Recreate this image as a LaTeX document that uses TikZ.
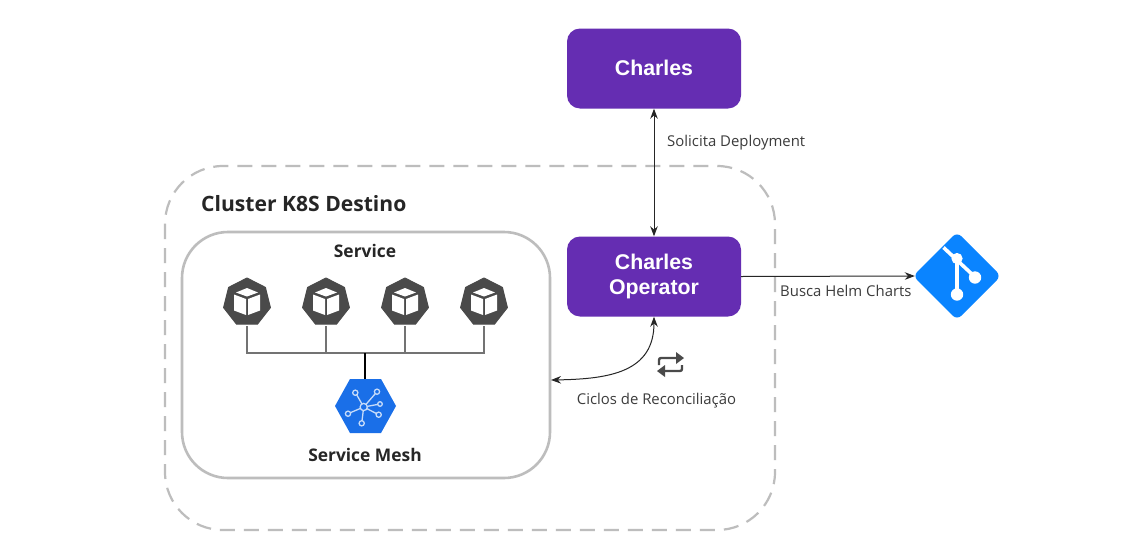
\documentclass[tikz,border=0pt]{standalone}
\usepackage{fontspec}
\setmainfont{Open Sans}
\newfontfamily\arialf{Liberation Sans}
\usetikzlibrary{arrows.meta}
\definecolor{purp}{HTML}{652DB2}
\definecolor{dark}{HTML}{4A4A4A}
\definecolor{gblue}{HTML}{1A6FE8}
\definecolor{gitblue}{HTML}{0A84FF}
\definecolor{frame}{HTML}{BDBDBD}
\definecolor{txt}{HTML}{3C3C3C}
\tikzset{
  x=1pt,y=-1pt,
  purplebox/.style={fill=purp,rounded corners=13pt,minimum width=174pt,minimum height=80pt,inner sep=0pt,text=white,align=center,font=\arialf\bfseries\fontsize{21.3}{24.5}\selectfont},
  lbl/.style={text=txt,inner sep=0pt,font=\fontsize{14.9}{17}\selectfont},
  hd/.style={text=black!85,inner sep=0pt,font=\bfseries\fontsize{17.4}{20}\selectfont},
  conn/.style={draw=black!85,line width=1pt,{Stealth[length=10pt,width=7.5pt]}-{Stealth[length=10pt,width=7.5pt]}},
  tree/.style={draw=black!55,line width=1.1pt},
  podnode/.style={inner sep=0pt,minimum size=48pt},
}
\newcommand{\kubepod}[2]{%
  \fill[dark,line join=round,draw=dark,line width=1pt] (#1+0,#2-24)
    -- (#1+18.4,#2-14.6) -- (#1+23.4,#2+5.6) -- (#1+10.4,#2+22.2)
    -- (#1-10.4,#2+22.2) -- (#1-23.4,#2+5.6) -- (#1-18.4,#2-14.6) -- cycle;
  \fill[white] (#1,#2-14) -- (#1+11,#2-9.5) -- (#1,#2-5.5) -- (#1-11,#2-9.5) -- cycle;
  \fill[white] (#1-13,#2-7.5) -- (#1-1,#2-3) -- (#1-1,#2+13) -- (#1-13,#2+8.5) -- cycle;
  \fill[white] (#1+13,#2-7.5) -- (#1+1,#2-3) -- (#1+1,#2+13) -- (#1+13,#2+8.5) -- cycle;
}
\begin{document}
\begin{tikzpicture}
\useasboundingbox (0,0) rectangle (1135,544);
\fill[white] (0,0) rectangle (1135,544);
% cluster
\draw[frame,line width=2.2pt,dash pattern=on 15pt off 9pt,rounded corners=58pt] (165,166) rectangle (775,530);
\node[hd,anchor=base west,font=\bfseries\fontsize{21.1}{24}\selectfont] (cluster) at (201,211) {Cluster K8S Destino};
% service
\draw[frame,line width=2.6pt,rounded corners=46pt] (182,232) rectangle (550,478) ;
\coordinate (svc) at (551,380);
\node[hd,anchor=base] (service) at (365,257) {Service};
\node[hd,anchor=base] (mesh) at (365,461) {Service Mesh};
% pods
\node[podnode] (p1) at (247,302) {};
\node[podnode] (p2) at (326,302) {};
\node[podnode] (p3) at (405,302) {};
\node[podnode] (p4) at (484,302) {};
\node[inner sep=0pt,minimum width=61pt,minimum height=54pt] (hex) at (365,406) {};
\coordinate (bus) at (365,353);
\draw[tree] (p1.south) -- (247,353) -- (484,353) -- (p4.south);
\draw[tree] (p2.south) -- (326,353);
\draw[tree] (p3.south) -- (405,353);
\draw[black,line width=1.2pt] (bus) -- (hex.north);
\kubepod{247}{302}
\kubepod{326}{302}
\kubepod{405}{302}
\kubepod{484}{302}
% mesh hexagon
\fill[gblue] (350,379) -- (381,379) -- (396,406) -- (381,433) -- (350,433) -- (335,406) -- cycle;
\begin{scope}[draw=white!75!gblue,line width=1.3pt,fill=gblue]
\draw (363.7,407) -- (355.5,392.7);
\draw (363.7,407) -- (377,391.7);
\draw (363.7,407) -- (380,404);
\draw (363.7,407) -- (378.7,414.7);
\draw (363.7,407) -- (361.7,423.3);
\draw (363.7,407) -- (348,413.7);
\filldraw (363.7,407) circle (3.6pt);
\filldraw (355.3,392.7) circle (2.6pt);
\filldraw (377,391.7) circle (2.6pt);
\filldraw (380,404) circle (2.3pt);
\filldraw (378.7,414.7) circle (2.6pt);
\filldraw (361.7,423.3) circle (2.6pt);
\filldraw (348,413.7) circle (2.6pt);
\end{scope}
% purple
\node[purplebox] (charles) at (654,68.5) {\raisebox{1pt}{Charles}};
\node[purplebox] (operator) at (654,276.5) {Charles\\Operator};
\draw[conn] (charles.south) -- (operator.north);
\node[lbl,anchor=base west] (sol) at (667,146) {Solicita Deployment};
% git
\node[inner sep=0pt,minimum size=84pt] (git) at (957,276) {};
\draw[-{Stealth[length=10pt,width=7.5pt]},draw=black!85,line width=1pt] (operator.east) -- (git.west);
\node[lbl,anchor=base west] (busca) at (780,296) {Busca Helm Charts};
\fill[gitblue,rounded corners=6pt] (957,232) -- (1001,276) -- (957,320) -- (913,276) -- cycle;
\begin{scope}[white]
\draw[white,line width=3.6pt] (943.5,247.5) -- (975,277);
\draw[white,line width=3.6pt] (957,258) -- (957,294);
\fill (957,258.5) circle (5.6pt);
\fill (975,277.5) circle (6.2pt);
\fill (957,294.5) circle (6.2pt);
\end{scope}
% reconcile
\draw[draw=black!85,line width=1pt,{Stealth[length=10pt,width=7.5pt]}-{Stealth[length=10pt,width=7.5pt]}] (svc) .. controls (610,379) and (654,372) .. (operator.south);
\node[lbl,anchor=base] (ciclos) at (656.5,404) {Ciclos de Reconciliação};
% loop icon
\begin{scope}[dark,line width=2.4pt,rounded corners=2pt]
\draw (659,365) -- (659,358) -- (677,358);
\draw (682,365) -- (682,371) -- (664,371);
\fill[sharp corners] (676,352) -- (684,358) -- (676,364) -- cycle;
\fill[sharp corners] (665,365) -- (657,371) -- (665,377) -- cycle;
\end{scope}
\end{tikzpicture}
\end{document}
